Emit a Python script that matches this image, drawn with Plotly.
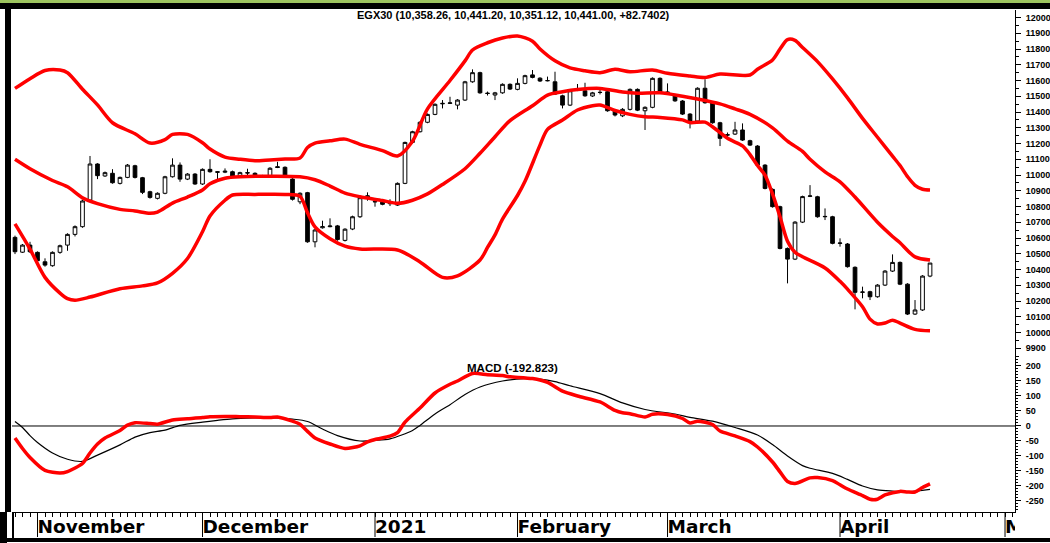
import plotly.graph_objects as go

# ---------------- data ----------------
title_text = "EGX30 (10,358.26, 10,441.20, 10,351.12, 10,441.00, +82.7402)"
macd_title = "MACD (-192.823)"

opens = [10604, 10510, 10555, 10509, 10449, 10424, 10509, 10555, 10623, 10672,
         10841, 11070, 10994, 11011, 10947, 10985, 11059, 10983, 10894, 10852,
         10884, 10989, 11063, 10974, 11006, 10943, 11036, 11021, 11018, 11021,
         10994, 11015, 11011, 10990, 10996, 11053, 11049, 10974, 10830, 10888,
         10576, 10665, 10672, 10677, 10585, 10657, 10735, 10860, 10832, 10830,
         10818, 10809, 10947, 11207, 11275, 11335, 11385, 11452, 11455, 11444,
         11476, 11592, 11650, 11520, 11508, 11522, 11576, 11544, 11582, 11636,
         11615, 11600, 11592, 11503, 11444, 11538, 11535, 11502, 11524, 11529,
         11408, 11376, 11417, 11544, 11408, 11430, 11614, 11527, 11508, 11470,
         11387, 11343, 11551, 11459, 11332, 11256, 11260, 11286, 11218, 11184,
         11063, 10909, 10799, 10534, 10466, 10701, 10865, 10862, 10735, 10735,
         10566, 10562, 10414, 10255, 10259, 10227, 10301, 10390, 10445, 10307,
         10117, 10143, 10358.26]
highs = [10615, 10562, 10576, 10515, 10471, 10515, 10558, 10630, 10680, 10842,
         11121, 11075, 11022, 11037, 10990, 11070, 11065, 10988, 10900, 10890,
         10995, 11106, 11080, 11012, 11012, 11042, 11100, 11024, 11042, 11028,
         11021, 11040, 11017, 11001, 11050, 11084, 11055, 10980, 10890, 10893,
         10660, 10710, 10725, 10683, 10662, 10742, 10862, 10890, 10838, 10836,
         10846, 10953, 11212, 11281, 11341, 11391, 11455, 11476, 11497, 11482,
         11598, 11671, 11656, 11530, 11528, 11582, 11582, 11614, 11637, 11667,
         11621, 11625, 11656, 11510, 11541, 11578, 11586, 11528, 11540, 11535,
         11414, 11425, 11550, 11550, 11436, 11620, 11620, 11582, 11515, 11476,
         11393, 11557, 11608, 11465, 11338, 11270, 11338, 11328, 11224, 11190,
         11069, 10915, 10805, 10540, 10707, 10869, 10936, 10868, 10788, 10741,
         10598, 10568, 10420, 10291, 10265, 10307, 10396, 10496, 10451, 10313,
         10206, 10364, 10441.20]
lows = [10498, 10505, 10505, 10450, 10418, 10418, 10500, 10519, 10610, 10665,
        10835, 10974, 10988, 10945, 10940, 10980, 10978, 10879, 10850, 10845,
        10878, 10984, 10957, 10968, 10938, 10937, 11015, 10973, 11012, 10988,
        10988, 11000, 10984, 10985, 10990, 11044, 10988, 10838, 10815, 10570,
        10541, 10660, 10668, 10583, 10578, 10650, 10728, 10837, 10799, 10808,
        10803, 10804, 10942, 11200, 11270, 11329, 11380, 11423, 11452, 11417,
        11470, 11586, 11516, 11505, 11476, 11516, 11540, 11538, 11576, 11614,
        11591, 11595, 11508, 11423, 11438, 11533, 11497, 11496, 11512, 11402,
        11372, 11368, 11410, 11406, 11286, 11424, 11522, 11519, 11465, 11381,
        11296, 11337, 11453, 11326, 11184, 11240, 11254, 11216, 11184, 11057,
        10909, 10793, 10528, 10312, 10460, 10695, 10860, 10729, 10714, 10560,
        10545, 10412, 10147, 10217, 10206, 10221, 10295, 10384, 10301, 10111,
        10111, 10137, 10351.12]
closes = [10513, 10555, 10513, 10456, 10428, 10509, 10551, 10623, 10672, 10835,
          11070, 10996, 11015, 10951, 10985, 11063, 10985, 10890, 10858, 10884,
          10989, 11063, 10974, 11006, 10943, 11036, 11021, 11018, 11024, 10994,
          11015, 11013, 10989, 10996, 11043, 11048, 10994, 10846, 10884, 10576,
          10651, 10672, 10676, 10590, 10656, 10735, 10856, 10868, 10830, 10814,
          10828, 10947, 11207, 11275, 11335, 11385, 11449, 11455, 11458, 11476,
          11592, 11650, 11522, 11518, 11522, 11576, 11546, 11582, 11631, 11620,
          11597, 11599, 11514, 11444, 11535, 11540, 11503, 11522, 11525, 11408,
          11381, 11417, 11544, 11412, 11430, 11614, 11529, 11525, 11471, 11387,
          11343, 11551, 11459, 11332, 11233, 11254, 11286, 11222, 11190, 11063,
          10915, 10799, 10534, 10466, 10701, 10863, 10867, 10735, 10737, 10566,
          10568, 10418, 10255, 10257, 10227, 10301, 10390, 10445, 10307, 10117,
          10143, 10358.26, 10441.00]
day_index = list(range(1, len(closes) + 1))

# Bollinger bands (sampled at trading-day index)
upper_idx = [1, 3, 5, 7, 8, 10, 12, 14, 17, 19, 21, 22, 24, 26, 27, 29, 31, 33, 35, 37,
             39, 40, 41, 43, 45, 47, 50, 52, 54, 56, 59, 61, 62, 64, 66, 68, 70, 71, 73,
             75, 77, 79, 81, 83, 86, 88, 91, 93, 95, 99, 100, 102, 103, 104, 105, 106,
             108, 110, 112, 114, 116, 118, 119, 120, 121, 122, 123]
upper_val = [11550, 11612, 11664, 11667, 11650, 11545, 11445, 11332, 11262, 11203,
             11225, 11258, 11258, 11205, 11165, 11114, 11100, 11091, 11096, 11101,
             11108, 11175, 11203, 11217, 11228, 11195, 11155, 11121, 11215, 11420,
             11600, 11725, 11794, 11840, 11870, 11883, 11850, 11800, 11725, 11680,
             11662, 11650, 11671, 11656, 11667, 11646, 11629, 11620, 11641, 11635,
             11672, 11730, 11800, 11860, 11855, 11810, 11720, 11610, 11490, 11360,
             11240, 11120, 11060, 10990, 10935, 10910, 10905]
middle_idx = [1, 3, 6, 8, 10, 12, 15, 17, 19, 20, 22, 24, 26, 27, 29, 31, 39, 41, 43, 45,
              47, 50, 52, 54, 56, 58, 61, 63, 65, 67, 70, 72, 74, 76, 79, 82, 84, 87, 90,
              92, 95, 97, 99, 102, 104, 106, 107, 109, 111, 113, 116, 118, 119, 121, 123]
middle_val = [11100, 11040, 10965, 10925, 10855, 10818, 10782, 10772, 10757, 10765,
              10822, 10860, 10905, 10945, 10980, 10989, 10989, 10970, 10930, 10885,
              10862, 10838, 10820, 10840, 10880, 10940, 11040, 11138, 11243, 11345,
              11440, 11508, 11529, 11543, 11550, 11527, 11519, 11522, 11500, 11483,
              11452, 11420, 11385, 11300, 11215, 11150, 11100, 11020, 10957, 10860,
              10700, 10610, 10570, 10480, 10460]
lower_idx = [1, 3, 5, 7, 8, 9, 11, 15, 18, 20, 22, 24, 26, 27, 29, 30, 33, 37, 39, 40,
             41, 43, 45, 47, 52, 55, 58, 60, 63, 64, 65, 66, 68, 69, 71, 72, 74, 76, 78,
             79, 81, 83, 85, 87, 90, 91, 93, 94, 96, 98, 99, 100, 101, 102, 103, 104,
             105, 106, 109, 111, 112, 114, 115, 116, 117, 118, 119, 121, 123]
lower_val = [10690, 10530, 10350, 10250, 10215, 10205, 10225, 10278, 10296, 10315,
             10376, 10470, 10640, 10740, 10840, 10873, 10877, 10877, 10865, 10760,
             10670, 10595, 10548, 10530, 10524, 10448, 10350, 10360, 10460, 10540,
             10620, 10720, 10870, 10960, 11190, 11290, 11349, 11413, 11440, 11444,
             11410, 11385, 11370, 11366, 11350, 11333, 11336, 11307, 11233, 11185,
             11130, 11060, 11000, 10880, 10735, 10580, 10510, 10481, 10410, 10325,
             10275, 10164, 10085, 10054, 10060, 10078, 10060, 10020, 10011]

# MACD and signal
macd_idx = [1, 2, 3, 5, 7, 8, 10, 11, 12, 13, 15, 16, 17, 19, 20, 22, 24, 26, 27, 29,
            31, 33, 35, 36, 38, 39, 40, 41, 43, 45, 47, 48, 49, 51, 52, 53, 55, 57, 59,
            60, 62, 64, 66, 67, 70, 72, 74, 76, 79, 81, 82, 83, 85, 86, 88, 90, 91, 92,
            94, 95, 97, 99, 100, 102, 103, 104, 105, 107, 108, 110, 111, 112, 114, 115,
            116, 117, 119, 120, 121, 122, 123]
macd_val = [-40, -75, -105, -148, -157, -152, -125, -90, -60, -40, -15, 3, 11, 8, 6,
            20, 24, 28, 31, 32, 31, 30, 28, 30, 16, 6, -18, -40, -60, -75, -66, -53,
            -45, -34, -22, 13, 60, 110, 139, 150, 175, 171, 168, 164, 158, 145, 116,
            100, 80, 52, 44, 41, 30, 39, 38, 25, 10, 16, 5, -17, -33, -52, -70, -120,
            -153, -185, -192, -173, -172, -182, -196, -210, -232, -244, -244, -230,
            -218, -220, -220, -205, -192.823]
signal_idx = [1, 2, 3, 4, 6, 8, 10, 12, 15, 17, 19, 21, 23, 26, 28, 30, 33, 35, 38, 40,
              42, 44, 47, 49, 51, 54, 55, 57, 59, 61, 63, 66, 69, 71, 73, 75, 79, 82, 85,
              89, 91, 94, 97, 100, 102, 104, 106, 107, 110, 112, 114, 116, 118, 120, 123]
signal_val = [15, -5, -32, -55, -90, -111, -118, -97, -63, -37, -22, -14, 2, 13, 19, 24,
              27, 28, 23, 15, -10, -32, -50, -48, -43, -15, 2, 40, 71, 105, 130, 150, 158,
              156, 148, 134, 108, 77, 55, 40, 29, 16, -5, -30, -62, -100, -132, -141,
              -158, -178, -200, -213, -217, -219, -211]

# axes
month_idx = [4, 26, 49, 68, 88, 111, 133]
month_labels = ["November", "December", "2021", "February", "March", "April", "May"]
price_ticks = list(range(9900, 12001, 100))
macd_ticks = list(range(-250, 201, 50))

# ---------------- layout geometry ----------------
W, H = 1050, 543
def py(y):  # pixel row -> paper
    return 1 - y / H
def px(x):
    return x / W

RED = "#ff0000"
BOLD = dict(family="Liberation Sans, Arial, sans-serif", color="black", weight="bold")

fig = go.Figure()

fig.add_trace(go.Candlestick(
    x=day_index, open=opens, high=highs, low=lows, close=closes,
    xaxis="x", yaxis="y",
    increasing=dict(line=dict(color="black", width=1), fillcolor="white"),
    decreasing=dict(line=dict(color="black", width=1), fillcolor="black"),
    whiskerwidth=0, hoverinfo="skip", showlegend=False))

for bx, bv in [(upper_idx, upper_val), (middle_idx, middle_val), (lower_idx, lower_val)]:
    fig.add_trace(go.Scatter(x=bx, y=bv, mode="lines", xaxis="x", yaxis="y",
                             line=dict(color=RED, width=3.5, shape="spline", smoothing=0.8),
                             hoverinfo="skip", showlegend=False))

fig.add_trace(go.Scatter(x=signal_idx, y=signal_val, mode="lines", xaxis="x", yaxis="y2",
                         line=dict(color="black", width=1.2, shape="spline", smoothing=0.8),
                         hoverinfo="skip", showlegend=False))
fig.add_trace(go.Scatter(x=macd_idx, y=macd_val, mode="lines", xaxis="x", yaxis="y2",
                         line=dict(color=RED, width=3.5, shape="spline", smoothing=0.7),
                         hoverinfo="skip", showlegend=False))

# month labels (clipped to the plot width like the reference)
fig.add_trace(go.Scatter(x=month_idx, y=[0.5] * len(month_idx), mode="text",
                         text=month_labels, textposition="middle right",
                         textfont=dict(family="DejaVu Sans", size=18.5, color="black", weight="bold"),
                         xaxis="x", yaxis="y3", cliponaxis=True,
                         hoverinfo="skip", showlegend=False))

x0, x1 = 0.6, 134.33
tick_font = dict(size=9, **BOLD)
fig.update_layout(
    width=W, height=H, margin=dict(l=0, r=0, t=0, b=0),
    paper_bgcolor="white", plot_bgcolor="white", showlegend=False,
    xaxis=dict(domain=[px(12), px(1015)], range=[x0, x1], anchor="y2",
               showgrid=False, zeroline=False, showline=True, linecolor="black", linewidth=1,
               ticks="outside", ticklen=4, tickcolor="black", tickwidth=1,
               tickmode="linear", tick0=1, dtick=1, showticklabels=False,
               rangeslider=dict(visible=False)),
    yaxis=dict(domain=[py(359), py(10)], range=[9831.7, 12048], side="right", anchor="x",
               showgrid=False, zeroline=False, showline=True, linecolor="black", linewidth=1,
               ticks="outside", ticklen=5, tickcolor="black",
               tickmode="array", tickvals=price_ticks, ticktext=[str(v) for v in price_ticks],
               minor=dict(tickmode="linear", tick0=0, dtick=50, ticklen=3, ticks="outside",
                          tickcolor="black"),
               showticklabels=True, tickfont=tick_font, ticklabelstandoff=3),
    yaxis2=dict(domain=[py(512), py(359)], range=[-286.7, 223.3], side="right", anchor="x",
                showgrid=False, zeroline=False, showline=True, linecolor="black", linewidth=1,
                ticks="outside", ticklen=5, tickcolor="black",
                tickmode="array", tickvals=macd_ticks, ticktext=[str(v) for v in macd_ticks],
                minor=dict(tickmode="linear", tick0=0, dtick=10, ticklen=2, ticks="outside",
                           tickcolor="black"),
                showticklabels=True, tickfont=tick_font, ticklabelstandoff=3),
    yaxis3=dict(domain=[py(542), py(515)], range=[0, 1], anchor="x", visible=False),
)

shapes = []
# MACD zero line
shapes.append(dict(type="line", xref="x", yref="y2", x0=x0, x1=x1, y0=0, y1=0,
                   line=dict(color="black", width=1), layer="below"))
# month separators
for m in month_idx:
    shapes.append(dict(type="line", xref="x", yref="paper", x0=m, x1=m,
                       y0=py(537), y1=py(512), line=dict(color="black", width=1)))
# frame
shapes.append(dict(type="rect", xref="paper", yref="paper", x0=0, x1=1, y0=py(3), y1=1,
                   fillcolor="#9dc45f", line=dict(width=0)))
shapes.append(dict(type="rect", xref="paper", yref="paper", x0=0, x1=1, y0=py(9), y1=py(3),
                   fillcolor="black", line=dict(width=0)))
shapes.append(dict(type="rect", xref="paper", yref="paper", x0=px(5), x1=px(11), y0=py(512), y1=py(3),
                   fillcolor="black", line=dict(width=0)))
shapes.append(dict(type="rect", xref="paper", yref="paper", x0=0, x1=px(7), y0=0, y1=py(512),
                   fillcolor="black", line=dict(width=0)))
shapes.append(dict(type="line", xref="paper", yref="paper", x0=px(13), x1=px(13), y0=py(538), y1=py(512),
                   line=dict(color="black", width=2)))
shapes.append(dict(type="rect", xref="paper", yref="paper", x0=0, x1=1, y0=py(542), y1=py(538),
                   fillcolor="black", line=dict(width=0)))
fig.update_layout(shapes=shapes)

ann = []
ann.append(dict(text=title_text, xref="paper", yref="paper", x=px(513.5), y=py(15),
                xanchor="center", yanchor="middle", showarrow=False, font=dict(size=11, **BOLD)))
ann.append(dict(text=macd_title, xref="paper", yref="paper", x=px(512), y=py(368),
                xanchor="center", yanchor="middle", showarrow=False, font=dict(size=11.5, **BOLD)))
fig.update_layout(annotations=ann)

fig.write_html("out.html", config={"displayModeBar": False},
               post_script="document.body.style.margin='0px';document.body.style.overflow='hidden';")
